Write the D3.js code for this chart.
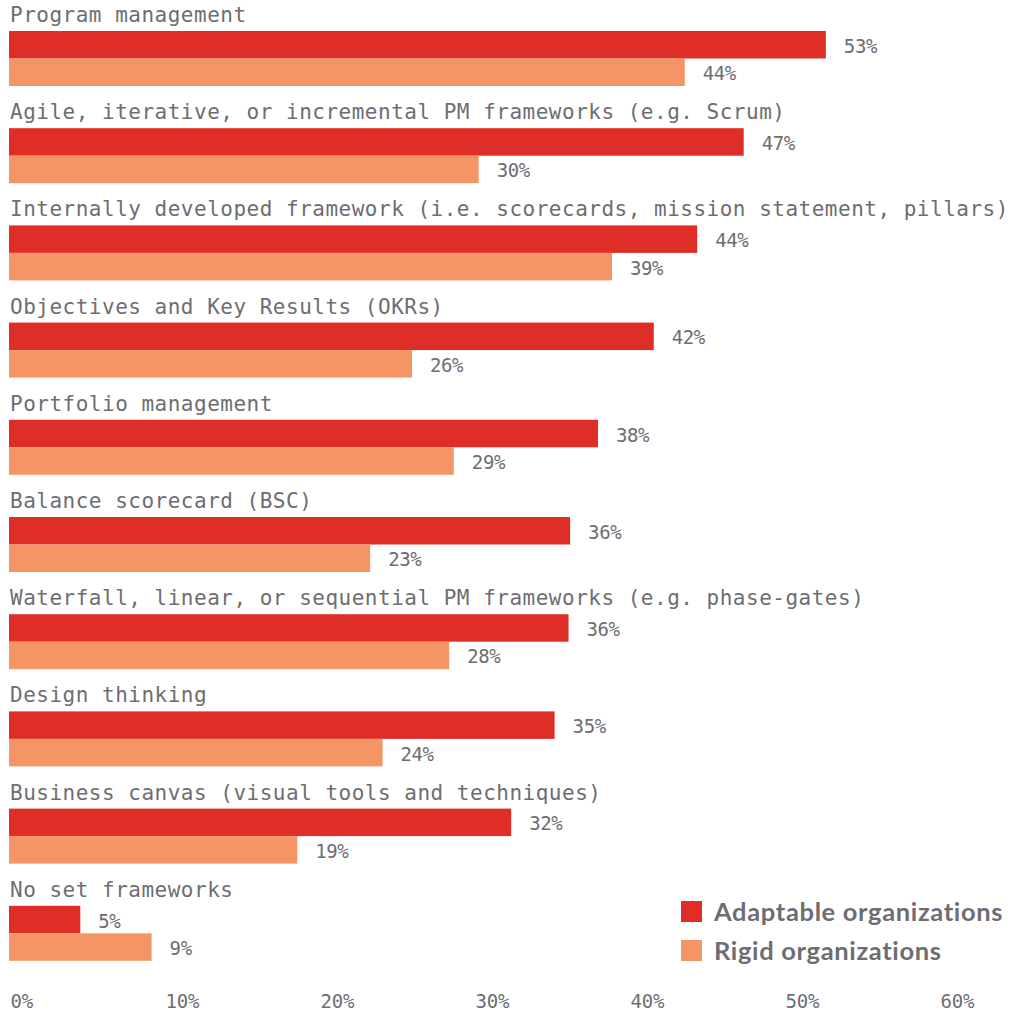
<!DOCTYPE html>
<html>
<head>
<meta charset="utf-8">
<script src="https://cdn.jsdelivr.net/npm/d3@7"></script>
<style>
  html, body { margin: 0; padding: 0; background: #ffffff; }
  svg { display: block; }
</style>
</head>
<body>
<svg id="chart" width="1013" height="1011"></svg>
<script>
const categories = [
  "Program management",
  "Agile, iterative, or incremental PM frameworks (e.g. Scrum)",
  "Internally developed framework (i.e. scorecards, mission statement, pillars)",
  "Objectives and Key Results (OKRs)",
  "Portfolio management",
  "Balance scorecard (BSC)",
  "Waterfall, linear, or sequential PM frameworks (e.g. phase-gates)",
  "Design thinking",
  "Business canvas (visual tools and techniques)",
  "No set frameworks"
];
const seriesNames = ["Adaptable organizations", "Rigid organizations"];
const adaptable = [52.7, 47.4, 44.4, 41.6, 38.0, 36.2, 36.1, 35.2, 32.4, 4.6];
const rigid     = [43.6, 30.3, 38.9, 26.0, 28.7, 23.3, 28.4, 24.1, 18.6, 9.2];
const tickValues = [0, 10, 20, 30, 40, 50, 60];
const colors = ["#DF2E27", "#F59565"];

const textColor = "#6d6d72";
const monoFont = "'DejaVu Sans Mono', 'Liberation Mono', monospace";

const svg = d3.select("#chart");
const x = d3.scaleLinear().domain([0, 60]).range([9, 939]);
const y = d3.scaleBand().domain(categories).range([31, 31 + 97.2 * categories.length]).padding(0);
const ySub = d3.scaleBand().domain(seriesNames).range([0, 55]).padding(0);
const color = d3.scaleOrdinal().domain(seriesNames).range(colors);

const rows = categories.map((c, i) => ({
  cat: c,
  vals: [
    { s: seriesNames[0], v: adaptable[i] },
    { s: seriesNames[1], v: rigid[i] }
  ]
}));

const g = svg.selectAll("g.row").data(rows).join("g")
  .attr("class", "row")
  .attr("transform", d => `translate(0,${y(d.cat)})`);

g.append("text")
  .attr("x", 10)
  .attr("y", -9)
  .attr("fill", textColor)
  .style("font-family", monoFont)
  .style("font-size", "21px")
  .style("letter-spacing", "0.5px")
  .text(d => d.cat);

g.selectAll("rect").data(d => d.vals).join("rect")
  .attr("x", x(0))
  .attr("y", d => ySub(d.s))
  .attr("width", d => x(d.v) - x(0))
  .attr("height", ySub.bandwidth())
  .attr("fill", d => color(d.s));

g.selectAll("text.val").data(d => d.vals).join("text")
  .attr("class", "val")
  .attr("x", d => x(d.v) + 18)
  .attr("y", d => ySub(d.s) + ySub.bandwidth() / 2 + 8)
  .attr("fill", textColor)
  .style("font-family", monoFont)
  .style("font-size", "19px")
  .style("letter-spacing", "-0.4px")
  .text(d => Math.round(d.v) + "%");

// x axis
const axis = d3.axisBottom(x).tickValues(tickValues).tickFormat(d => d + "%").tickSize(0);
const ax = svg.append("g").attr("transform", "translate(0,1008)").call(axis);
ax.select(".domain").remove();
ax.selectAll("text")
  .attr("y", 0).attr("dy", 0)
  .attr("x", 1)
  .attr("text-anchor", "start")
  .attr("fill", textColor)
  .style("font-family", monoFont)
  .style("font-size", "19px")
  .style("letter-spacing", "-0.2px");

// legend
const legend = svg.append("g").attr("transform", "translate(681,901)");
const li = legend.selectAll("g").data(seriesNames).join("g")
  .attr("transform", (d, i) => `translate(0,${i * 39})`);
li.append("rect").attr("width", 21).attr("height", 21).attr("fill", d => color(d));
const lt = li.append("text")
  .attr("x", 33)
  .attr("y", 20)
  .attr("fill", textColor)
  .style("font-family", "Lato, 'Open Sans', sans-serif")
  .style("font-weight", "700")
  .style("font-size", "25.5px")
  .style("letter-spacing", "0px")
  .text(d => d);
// widen legend text to the reference's wide geometric face
const first = lt.filter((d, i) => i === 0).node();
const w0 = first.getComputedTextLength();
const target = 289;
const ls = Math.max(0, (target - w0) / (seriesNames[0].length - 1));
lt.style("letter-spacing", ls + "px");
</script>
</body>
</html>
